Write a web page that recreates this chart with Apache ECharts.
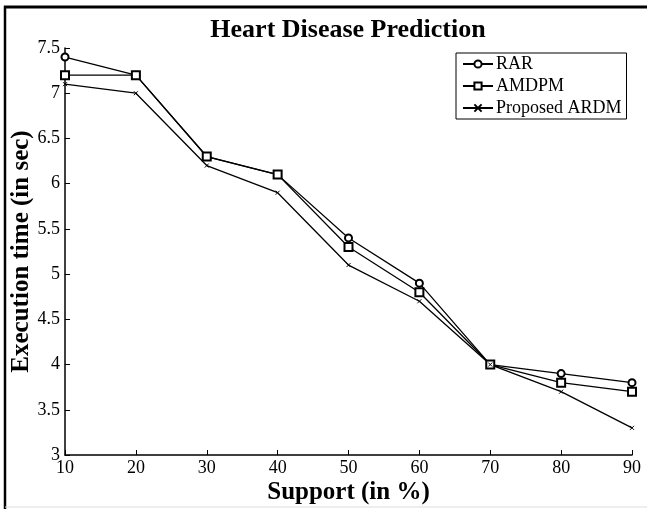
<!DOCTYPE html>
<html>
<head>
<meta charset="utf-8">
<script src="https://cdn.jsdelivr.net/npm/echarts@6/dist/echarts.min.js"></script>
<style>
  html, body { margin: 0; padding: 0; background: #fff; }
  #chart { width: 647px; height: 509px; }
</style>
</head>
<body>
<div id="chart"></div>
<script>
// Support thresholds (%)
const support = [10, 20, 30, 40, 50, 60, 70, 80, 90];
// Execution times (sec)
const rar = [7.4, 7.2, 6.3, 6.1, 5.4, 4.9, 4.0, 3.9, 3.8];
const amdpm = [7.2, 7.2, 6.3, 6.1, 5.3, 4.8, 4.0, 3.8, 3.7];
const ardm = [7.1, 7.0, 6.2, 5.9, 5.1, 4.7, 4.0, 3.7, 3.3];
const seriesNames = ['RAR', 'AMDPM', 'Proposed ARDM'];

const serif = '"Liberation Serif", "DejaVu Serif", serif';
const chart = echarts.init(document.getElementById('chart'), null, { renderer: 'canvas' });

const pair = arr => arr.map((v, i) => [support[i], v]);
const crossPath = 'path://M0,0L10,10M10,0L0,10';

const option = {
  animation: false,
  backgroundColor: '#fff',
  title: {
    text: 'Heart Disease Prediction',
    left: 343,
    top: 12,
    textAlign: 'center',
    textStyle: { fontFamily: serif, fontWeight: 'bold', fontSize: 26, color: '#000' }
  },
  legend: {
    orient: 'vertical',
    left: 456,
    top: 53,
    data: seriesNames,
    itemWidth: 30,
    itemHeight: 9,
    itemGap: 4,
    padding: [2, 5, 2, 6],
    borderColor: '#000',
    borderWidth: 1,
    backgroundColor: '#fff',
    textStyle: { fontFamily: serif, fontSize: 18, color: '#000', padding: [0, 0, 0, -2] }
  },
  grid: { left: 65, right: 15, top: 48, bottom: 54, containLabel: false, outerBoundsMode: 'none' },
  xAxis: {
    type: 'value',
    min: 10, max: 90, interval: 10,
    name: 'Support (in %)',
    nameLocation: 'middle',
    nameGap: 25,
    nameMoveOverlap: false,
    nameTextStyle: { fontFamily: serif, fontWeight: 'bold', fontSize: 25, color: '#000' },
    axisLine: { lineStyle: { color: '#000', width: 1.5 } },
    axisTick: { inside: true, length: 5, lineStyle: { color: '#000', width: 1 } },
    axisLabel: { fontFamily: serif, fontSize: 18, color: '#000', margin: 4 },
    splitLine: { show: false }
  },
  yAxis: {
    type: 'value',
    min: 3, max: 7.5, interval: 0.5,
    name: 'Execution time (in sec)',
    nameLocation: 'middle',
    nameGap: 31,
    nameMoveOverlap: false,
    nameTextStyle: { fontFamily: serif, fontWeight: 'bold', fontSize: 25, color: '#000' },
    axisLine: { show: true, lineStyle: { color: '#000', width: 1.5 } },
    axisTick: { show: true, inside: true, length: 5, lineStyle: { color: '#000', width: 1 } },
    axisLabel: { fontFamily: serif, fontSize: 18, color: '#000', margin: 5 },
    splitLine: { show: false }
  },
  series: [
    {
      name: 'RAR', type: 'line', data: pair(rar),
      symbol: 'emptyCircle', symbolSize: 7,
      lineStyle: { color: '#000', width: 1.3 },
      itemStyle: { color: '#000', borderWidth: 1.2 }
    },
    {
      name: 'AMDPM', type: 'line', data: pair(amdpm),
      symbol: 'emptyRect', symbolSize: 8,
      lineStyle: { color: '#000', width: 1.3 },
      itemStyle: { color: '#000', borderWidth: 1.2 }
    },
    {
      name: 'Proposed ARDM', type: 'line', data: pair(ardm),
      symbol: crossPath, symbolSize: 4,
      lineStyle: { color: '#000', width: 1.3 },
      itemStyle: { color: '#000', borderColor: '#000', borderWidth: 1 }
    }
  ],
  graphic: [
    // page frame: top and left rule, faint bottom rule
    { type: 'line', shape: { x1: 4, y1: 7, x2: 647, y2: 7 }, style: { stroke: '#000', lineWidth: 3 }, silent: true },
    { type: 'line', shape: { x1: 5, y1: 6, x2: 5, y2: 509 }, style: { stroke: '#000', lineWidth: 2.5 }, silent: true },
    { type: 'line', shape: { x1: 5, y1: 507, x2: 647, y2: 507 }, style: { stroke: '#ddd', lineWidth: 1 }, silent: true }
  ]
};

chart.setOption(option);
</script>
</body>
</html>
